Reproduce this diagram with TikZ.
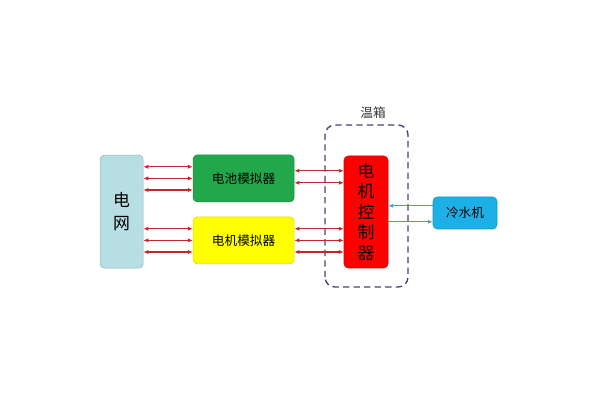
\documentclass[tikz,border=0pt]{standalone}
\usepackage{fontspec}
\setmainfont{Noto Sans CJK SC}
\usepackage{xcolor}
\usetikzlibrary{arrows.meta,positioning,calc}

\definecolor{gridfill}{HTML}{B7DEE3}
\definecolor{griddraw}{HTML}{8DB8BC}
\definecolor{batfill}{HTML}{22A84A}
\definecolor{motfill}{HTML}{FFFF00}
\definecolor{ctrlfill}{HTML}{FF0000}
\definecolor{chillfill}{HTML}{1CB0E6}
\definecolor{linkred}{HTML}{C0262C}
\definecolor{linkblue}{HTML}{27A6D8}
\definecolor{ovenline}{HTML}{4F3F78}

\begin{document}
\begin{tikzpicture}[
    box/.style={draw, line width=0.4pt, rounded corners=3pt, inner sep=0pt, align=center},
    link/.style={{Latex[length=3.5pt,width=3pt]}-{Latex[length=3.5pt,width=3pt]}, color=linkred, line width=0.9pt},
    flow/.style={-{Latex[length=3.5pt,width=3pt]}, color=linkblue, line width=0.9pt}
]
    \useasboundingbox (0,0) rectangle (15,10);

    % blocks
    \node[box, fill=gridfill, draw=griddraw, minimum width=1.075cm, minimum height=2.825cm, font=\fontsize{12}{17}\selectfont] (grid) at (3.04,4.71) {电\\网};
    \node[box, fill=batfill, draw=batfill!85!black, minimum width=2.525cm, minimum height=1.175cm, font=\fontsize{9}{11}\selectfont] (bat) at (6.09,5.54) {电池模拟器};
    \node[box, fill=motfill, draw=motfill!85!black, minimum width=2.525cm, minimum height=1.175cm, font=\fontsize{9}{11}\selectfont] (mot) at (6.09,3.99) {电机模拟器};
    \node[box, fill=ctrlfill, draw=ctrlfill!85!black, minimum width=1.1cm, minimum height=2.8cm, font=\fontsize{12}{14.5}\selectfont] (ctrl) at (9.15,4.70) {电\\机\\控\\制\\器};
    \node[box, fill=chillfill, draw=chillfill!85!black, minimum width=1.6cm, minimum height=0.8cm, font=\fontsize{9}{11}\selectfont] (chill) at (11.625,4.675) {冷水机};

    % oven (dashed frame)
    \coordinate (ovenSW) at (8.125,2.825);
    \coordinate (ovenNE) at (10.2,6.875);
    \draw[ovenline, line width=1pt, dash pattern=on 4.5pt off 3pt, rounded corners=7pt] (ovenSW) rectangle (ovenNE);
    \node[font=\fontsize{9}{11}\selectfont, text=black!80] (oven) at (9.325,7.175) {温箱};

    % grid <-> simulators
    \foreach \dy [count=\i] in {0.29,0,-0.29} {
        \coordinate (b\i) at ([yshift=\dy cm]bat.west);
        \coordinate (m\i) at ([yshift=\dy cm]mot.west);
        \draw[link] (grid.east |- b\i) -- (b\i);
        \draw[link] (grid.east |- m\i) -- (m\i);
    }

    % simulators <-> controller
    \foreach \dy [count=\i] in {0.19,-0.11} {
        \coordinate (bc\i) at ([yshift=\dy cm]bat.east);
        \draw[link] (bc\i) -- (ctrl.west |- bc\i);
    }
    \foreach \dy [count=\i] in {0.29,0,-0.29} {
        \coordinate (mc\i) at ([yshift=\dy cm]mot.east);
        \draw[link] (mc\i) -- (ctrl.west |- mc\i);
    }

    % chiller loop
    \coordinate (ch1) at ([yshift=0.18cm]chill.west);
    \coordinate (ch2) at ([yshift=-0.22cm]chill.west);
    \draw[flow] (ch1) -- (ctrl.east |- ch1);
    \draw[flow] (ctrl.east |- ch2) -- (ch2);
\end{tikzpicture}
\end{document}
